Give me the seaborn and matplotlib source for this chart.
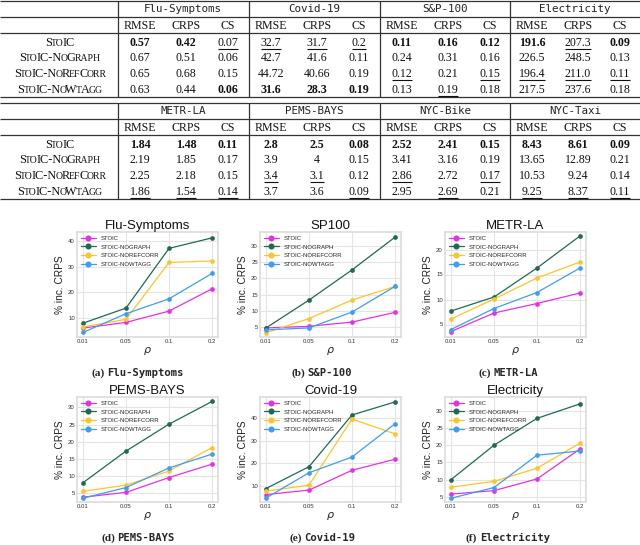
"""StoIC ablation: two result tables and CRPS degradation vs rho panels."""

import matplotlib

matplotlib.use("Agg")

import matplotlib.pyplot as plt
import pandas as pd
import seaborn as sns
from matplotlib.lines import Line2D

# ---------------------------------------------------------------- tables
variants = ["StoIC", "StoIC-NoGraph", "StoIC-NoRefCorr", "StoIC-NoWtAgg"]
metrics = ["RMSE", "CRPS", "CS"]

table1_datasets = ["Flu-Symptoms", "Covid-19", "S&P-100", "Electricity"]
table1_values = [
    ["0.57", "0.42", "0.07", "32.7", "31.7", "0.2", "0.11", "0.16", "0.12", "191.6", "207.3", "0.09"],
    ["0.67", "0.51", "0.06", "42.7", "41.6", "0.11", "0.24", "0.31", "0.16", "226.5", "248.5", "0.13"],
    ["0.65", "0.68", "0.15", "44.72", "40.66", "0.19", "0.12", "0.21", "0.15", "196.4", "211.0", "0.11"],
    ["0.63", "0.44", "0.06", "31.6", "28.3", "0.19", "0.13", "0.19", "0.18", "217.5", "237.6", "0.18"],
]
# b = best (bold), u = second best (underlined)
table1_marks = ["bbu uuu bbb bub", "... ... ... ...", "... ... u.u uuu", "..b bbb .u. ..."]

table2_datasets = ["METR-LA", "PEMS-BAYS", "NYC-Bike", "NYC-Taxi"]
table2_values = [
    ["1.84", "1.48", "0.11", "2.8", "2.5", "0.08", "2.52", "2.41", "0.15", "8.43", "8.61", "0.09"],
    ["2.19", "1.85", "0.17", "3.9", "4", "0.15", "3.41", "3.16", "0.19", "13.65", "12.89", "0.21"],
    ["2.25", "2.18", "0.15", "3.4", "3.1", "0.12", "2.86", "2.72", "0.17", "10.53", "9.24", "0.14"],
    ["1.86", "1.54", "0.14", "3.7", "3.6", "0.09", "2.95", "2.69", "0.21", "9.25", "8.37", "0.11"],
]
table2_marks = ["bbb bbb bbb bbb", "... ... ... ...", "... uu. u.u ...", "uuu ..u .u. uuu"]

# ---------------------------------------------------------------- panels
rho = ["0.01", "0.05", "0.1", "0.2"]
models = ["STOIC", "STOIC-NOGRAPH", "STOIC-NOREFCORR", "STOIC-NOWTAGG"]

flu = {
    "STOIC": [6.0, 8.2, 12.6, 21.3],
    "STOIC-NOGRAPH": [7.9, 13.8, 37.1, 41.2],
    "STOIC-NOREFCORR": [6.4, 9.4, 31.6, 32.2],
    "STOIC-NOWTAGG": [4.3, 11.6, 17.4, 27.3],
}
sp100 = {
    "STOIC": [4.7, 5.2, 6.5, 9.5],
    "STOIC-NOGRAPH": [4.7, 13.3, 22.6, 32.7],
    "STOIC-NOREFCORR": [3.2, 7.6, 13.3, 17.5],
    "STOIC-NOWTAGG": [4.1, 4.7, 9.6, 17.5],
}
metr = {
    "STOIC": [3.6, 7.3, 9.2, 11.3],
    "STOIC-NOGRAPH": [7.7, 10.5, 16.3, 22.7],
    "STOIC-NOREFCORR": [6.1, 10.1, 14.3, 17.5],
    "STOIC-NOWTAGG": [4.0, 8.2, 11.4, 16.3],
}
pems = {
    "STOIC": [3.9, 5.3, 9.6, 13.5],
    "STOIC-NOGRAPH": [8.1, 17.3, 25.1, 31.7],
    "STOIC-NOREFCORR": [5.6, 7.4, 11.5, 18.3],
    "STOIC-NOWTAGG": [3.6, 6.7, 12.4, 16.4],
}
covid = {
    "STOIC": [6.1, 8.1, 16.9, 21.8],
    "STOIC-NOGRAPH": [8.8, 18.5, 41.5, 47.3],
    "STOIC-NOREFCORR": [7.6, 10.3, 39.7, 33.1],
    "STOIC-NOWTAGG": [4.6, 15.8, 22.8, 37.6],
}
elec = {
    "STOIC": [5.8, 6.8, 10.2, 18.9],
    "STOIC-NOGRAPH": [10.0, 20.0, 27.8, 32.0],
    "STOIC-NOREFCORR": [7.8, 9.5, 13.3, 20.6],
    "STOIC-NOWTAGG": [4.6, 7.7, 17.1, 18.3],
}

panels = [
    ("Flu-Symptoms", flu, "(a)", "Flu-Symptoms", (2.5, 43.5), [10, 20, 30, 40]),
    ("SP100", sp100, "(b)", "S&P-100", (1.9, 34.3), [5, 10, 15, 20, 25, 30]),
    ("METR-LA", metr, "(c)", "METR-LA", (2.5, 23.5), [5, 10, 15, 20]),
    ("PEMS-BAYS", pems, "(d)", "PEMS-BAYS", (2.5, 33.0), [5, 10, 15, 20, 25, 30]),
    ("Covid-19", covid, "(e)", "Covid-19", (2.8, 49.5), [10, 20, 30, 40]),
    ("Electricity", elec, "(f)", "Electricity", (3.5, 34.0), [5, 10, 15, 20, 25, 30]),
]

palette = ["#e630e6", "#1f6a52", "#ffc42a", "#3e9ef0"]

SERIF = "Liberation Serif"
MONO = "DejaVu Sans Mono"

sns.set_theme(
    style="whitegrid",
    rc={"grid.color": "#e4e4e4", "axes.edgecolor": "#dddddd", "grid.linewidth": 0.8},
)
plt.rcParams["font.family"] = ["Liberation Sans", "DejaVu Sans"]

fig = plt.figure(figsize=(6.4, 5.45), dpi=100)
renderer = fig.canvas.get_renderer()

# pixel-coordinate canvas for the tables and captions
canvas = fig.add_axes([0, 0, 1, 1])
canvas.set_xlim(0, 640)
canvas.set_ylim(545, 0)
canvas.axis("off")

SEPS = [118, 249, 380, 510]
COL_OFF = [22, 68, 110]
ROW_Y = [42, 57, 73, 89]


def draw_runs(ax, xc, baseline, runs, gap=0.0):
    """Place text pieces side by side, centred on xc."""
    texts = [ax.text(0, baseline, s, va="baseline", ha="left", **kw) for s, kw in runs]
    widths = [t.get_window_extent(renderer=renderer).width for t in texts]
    x = xc - (sum(widths) + gap * (len(texts) - 1)) / 2
    for t, w in zip(texts, widths):
        t.set_x(x)
        x += w + gap


def small_caps(label, size):
    runs = []
    for ch in label:
        low = ch.islower()
        if runs and runs[-1][1] == low:
            runs[-1][0] += ch.upper()
        else:
            runs.append([ch.upper(), low])
    return [(s, dict(family=SERIF, fontsize=size * 0.8 if low else size, color="#111111"))
            for s, low in runs]


def draw_table(top, datasets, values, marks):
    canvas.hlines([top + 1, top + 17, top + 33, top + 97], 0, 640, color="#333333", lw=0.9)
    canvas.vlines(SEPS, top + 1, top + 97, color="#333333", lw=0.9)
    for g, name in enumerate(datasets):
        canvas.text(SEPS[g] + 65, top + 12.5, name, family=MONO, fontsize=7.8,
                    ha="center", va="baseline", color="#222222")
        for m, metric in enumerate(metrics):
            canvas.text(SEPS[g] + COL_OFF[m], top + 29, metric, family=SERIF,
                        fontsize=8.6, ha="center", va="baseline", color="#111111")
    for r, variant in enumerate(variants):
        base = top + ROW_Y[r] + 4
        draw_runs(canvas, 60, base, small_caps(variant, 8.8), gap=-1.0)
        flags = marks[r].replace(" ", "")
        for c, val in enumerate(values[r]):
            xc = SEPS[c // 3] + COL_OFF[c % 3]
            t = canvas.text(xc, base, val, family=SERIF, fontsize=8.6, ha="center",
                            va="baseline", color="#111111",
                            fontweight="bold" if flags[c] == "b" else "normal")
            if flags[c] == "u":
                w = t.get_window_extent(renderer=renderer).width
                canvas.hlines(base + 2.5, xc - w / 2, xc + w / 2, color="#111111", lw=0.8)


draw_table(0, table1_datasets, table1_values, table1_marks)
draw_table(102, table2_datasets, table2_values, table2_marks)

# ---------------------------------------------------------------- line panels
LEFTS = [77, 260, 445]
TOPS = [232, 397]
W, H = 141, 105
CAP_X = [138, 322, 508]
CAP_Y = [376, 541]

handles = [
    Line2D([], [], color=c, lw=0.9, marker="o", markersize=4.4, markeredgewidth=0)
    for c in palette
]

for i, (title, series, tag, capname, ylim, yticks) in enumerate(panels):
    row, col = divmod(i, 3)
    rect = [LEFTS[col] / 640, 1 - (TOPS[row] + H) / 545, W / 640, H / 545]
    ax = fig.add_axes(rect)
    frame = pd.DataFrame(
        [(r, m, series[m][k]) for m in models for k, r in enumerate(rho)],
        columns=["rho", "model", "value"],
    )
    sns.pointplot(
        data=frame, x="rho", y="value", hue="model", order=rho, hue_order=models,
        palette=palette, markers="o", errorbar=None, legend=False, ax=ax,
        linewidth=0.9, markersize=3.4, markeredgewidth=0,
    )
    ax.set_xlim(-0.14, 3.14)
    ax.set_ylim(*ylim)
    ax.set_yticks(yticks)
    ax.grid(True, axis="both")
    ax.tick_params(labelsize=4.3, pad=1.5, length=0, colors="#333333")
    ax.set_title(title, fontsize=9.5, pad=2.5, color="#111111")
    ax.set_ylabel("% inc. CRPS", fontsize=7.3, labelpad=2, color="#222222")
    ax.set_xlabel(r"$\rho$", fontsize=8, labelpad=0.5, color="#222222")
    ax.legend(handles, models, loc="upper left", frameon=False, fontsize=4.3,
              handlelength=2.6, handletextpad=0.7, borderaxespad=0.3,
              labelspacing=0.6, borderpad=0.3)
    draw_runs(
        canvas, CAP_X[col], CAP_Y[row],
        [(tag, dict(family=SERIF, fontsize=8.2, fontweight="bold")),
         (capname, dict(family=MONO, fontsize=7.6, fontweight="bold"))],
        gap=2.5,
    )

fig.savefig("out.png", dpi=100)
plt.close(fig)
